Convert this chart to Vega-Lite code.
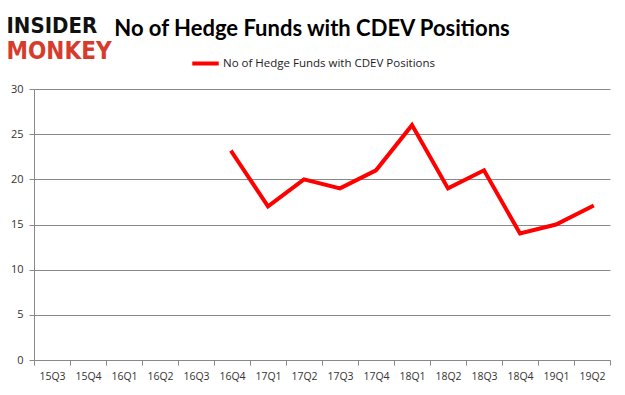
{
  "$schema": "https://vega.github.io/schema/vega-lite/v6.json",
  "width": 576,
  "height": 271,
  "autosize": "none",
  "padding": {"left": 34, "top": 89, "right": 15, "bottom": 35},
  "background": "white",
  "title": {
    "text": "No of Hedge Funds with CDEV Positions",
    "anchor": "middle",
    "dx": -10,
    "offset": -27,
    "font": "Lato",
    "fontSize": 22,
    "fontWeight": "bold",
    "color": "#000000"
  },
  "data": {
    "values": [
      {"quarter": "16Q4", "funds": 23, "series": "No of Hedge Funds with CDEV Positions"},
      {"quarter": "17Q1", "funds": 17, "series": "No of Hedge Funds with CDEV Positions"},
      {"quarter": "17Q2", "funds": 20, "series": "No of Hedge Funds with CDEV Positions"},
      {"quarter": "17Q3", "funds": 19, "series": "No of Hedge Funds with CDEV Positions"},
      {"quarter": "17Q4", "funds": 21, "series": "No of Hedge Funds with CDEV Positions"},
      {"quarter": "18Q1", "funds": 26, "series": "No of Hedge Funds with CDEV Positions"},
      {"quarter": "18Q2", "funds": 19, "series": "No of Hedge Funds with CDEV Positions"},
      {"quarter": "18Q3", "funds": 21, "series": "No of Hedge Funds with CDEV Positions"},
      {"quarter": "18Q4", "funds": 14, "series": "No of Hedge Funds with CDEV Positions"},
      {"quarter": "19Q1", "funds": 15, "series": "No of Hedge Funds with CDEV Positions"},
      {"quarter": "19Q2", "funds": 17, "series": "No of Hedge Funds with CDEV Positions"}
    ]
  },
  "mark": {"type": "line", "strokeWidth": 4, "strokeCap": "square", "strokeJoin": "miter"},
  "encoding": {
    "x": {
      "field": "quarter",
      "type": "ordinal",
      "bandPosition": 0.5,
      "sort": null,
      "scale": {
        "type": "band",
        "paddingInner": 0,
        "paddingOuter": 0,
        "domain": ["15Q3", "15Q4", "16Q1", "16Q2", "16Q3", "16Q4", "17Q1", "17Q2", "17Q3", "17Q4", "18Q1", "18Q2", "18Q3", "18Q4", "19Q1", "19Q2"]
      },
      "axis": {
        "title": "MONKEY",
        "titleColor": "#d63c2c",
        "titleFont": "DejaVu Sans Condensed",
        "titleFontSize": 24,
        "titleFontWeight": "bold",
        "titleAlign": "left",
        "titleBaseline": "alphabetic",
        "titleAnchor": "start",
        "titleX": -28,
        "titleY": -302,
        "labelAngle": 0,
        "labelFont": "Open Sans",
        "labelFontSize": 10.5,
        "labelColor": "#333333",
        "labelPadding": 6,
        "tickBand": "extent",
        "tickSize": 5,
        "tickColor": "#888888",
        "domainColor": "#888888",
        "grid": false
      }
    },
    "y": {
      "field": "funds",
      "type": "quantitative",
      "scale": {"domain": [0, 30]},
      "axis": {
        "title": "INSIDER",
        "titleColor": "#111111",
        "titleFont": "DejaVu Sans Condensed",
        "titleFontSize": 22,
        "titleFontWeight": "bold",
        "titleAngle": 0,
        "titleAlign": "left",
        "titleBaseline": "alphabetic",
        "titleX": -28,
        "titleY": -57,
        "values": [0, 5, 10, 15, 20, 25, 30],
        "labelFont": "Open Sans",
        "labelFontSize": 11,
        "labelColor": "#333333",
        "labelPadding": 6,
        "tickSize": 5,
        "tickColor": "#888888",
        "domainColor": "#888888",
        "gridColor": "#888888",
        "gridWidth": 1
      }
    },
    "color": {
      "field": "series",
      "type": "nominal",
      "scale": {"range": ["#ff0000"]},
      "legend": {
        "title": null,
        "orient": "none",
        "legendX": 156,
        "legendY": -41,
        "symbolType": "stroke",
        "symbolStrokeWidth": 4,
        "symbolSize": 700,
        "labelFont": "Open Sans",
        "labelFontSize": 11.5,
        "labelColor": "#222222",
        "labelOffset": 2,
        "labelLimit": 0
      }
    }
  },
  "config": {
    "view": {"stroke": null}
  }
}
